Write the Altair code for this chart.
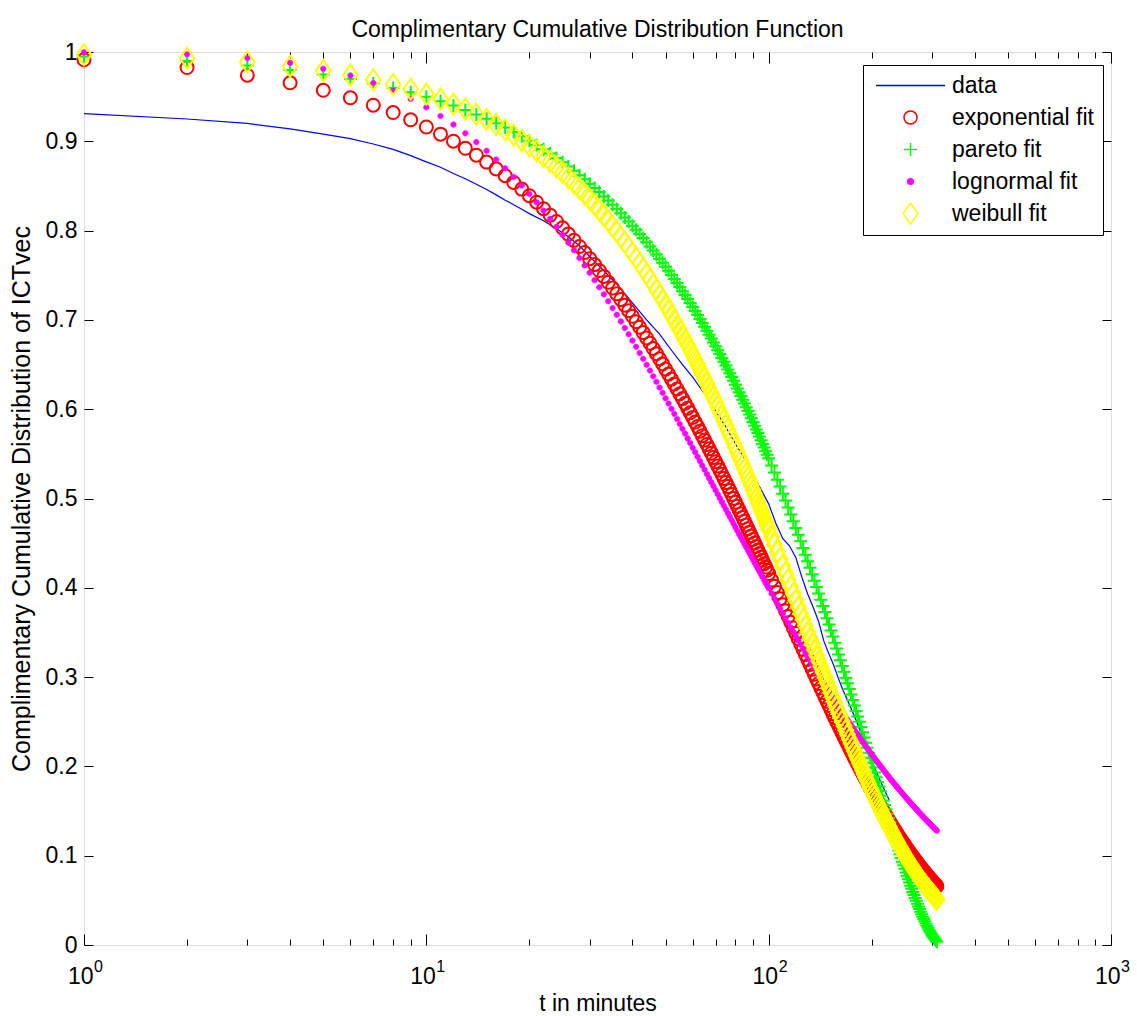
import altair as alt
import pandas as pd

FONT = "Liberation Sans"

# ---------------- data ----------------
t_fit = [1, 2, 3, 4, 5, 6, 7, 8, 9, 10, 11, 12, 13, 14, 15, 16, 17, 18, 19, 20,
         21, 22, 23, 24, 25, 26, 27, 28, 29, 30, 31, 32, 33, 34, 35, 36, 37, 38, 39, 40,
         41, 42, 43, 44, 45, 46, 47, 48, 49, 50, 51, 52, 53, 54, 55, 56, 57, 58, 59, 60,
         61, 62, 63, 64, 65, 66, 67, 68, 69, 70, 71, 72, 73, 74, 75, 76, 77, 78, 79, 80,
         81, 82, 83, 84, 85, 86, 87, 88, 89, 90, 91, 92, 93, 94, 95, 96, 97, 98, 99, 100,
         102, 104, 106, 108, 110, 112, 114, 116, 118, 120,
         122, 124, 126, 128, 130, 132, 134, 136, 138, 140,
         142, 144, 146, 148, 150, 152, 154, 156, 158, 160,
         162, 164, 166, 168, 170, 172, 174, 176, 178, 180,
         182, 184, 186, 188, 190, 192, 194, 196, 198, 200,
         202, 204, 206, 208, 210, 212, 214, 216, 218, 220,
         222, 224, 226, 228, 230, 232, 234, 236, 238, 240,
         242, 244, 246, 248, 250, 252, 254, 256, 258, 260,
         262, 264, 266, 268, 270, 272, 274, 276, 278, 280,
         282, 284, 286, 288, 290, 292, 294, 296, 298, 300,
         302, 304, 306, 308, 310]

exponential_fit = [
    0.9913, 0.9826, 0.9740, 0.9655, 0.9571, 0.9487, 0.9404, 0.9322, 0.9241, 0.9160,
    0.9080, 0.9001, 0.8922, 0.8844, 0.8767, 0.8691, 0.8615, 0.8539, 0.8465, 0.8391,
    0.8318, 0.8245, 0.8173, 0.8102, 0.8031, 0.7961, 0.7891, 0.7822, 0.7754, 0.7686,
    0.7619, 0.7553, 0.7487, 0.7421, 0.7357, 0.7292, 0.7229, 0.7165, 0.7103, 0.7041,
    0.6980, 0.6918, 0.6858, 0.6798, 0.6739, 0.6680, 0.6622, 0.6564, 0.6507, 0.6449,
    0.6393, 0.6337, 0.6282, 0.6227, 0.6173, 0.6119, 0.6066, 0.6012, 0.5960, 0.5908,
    0.5856, 0.5805, 0.5754, 0.5704, 0.5654, 0.5605, 0.5556, 0.5508, 0.5460, 0.5412,
    0.5365, 0.5318, 0.5272, 0.5225, 0.5179, 0.5134, 0.5089, 0.5045, 0.5001, 0.4957,
    0.4914, 0.4871, 0.4829, 0.4787, 0.4745, 0.4703, 0.4662, 0.4621, 0.4581, 0.4541,
    0.4501, 0.4462, 0.4423, 0.4384, 0.4346, 0.4308, 0.4270, 0.4233, 0.4196, 0.4159,
    0.4087, 0.4016, 0.3946, 0.3878, 0.3810, 0.3744, 0.3679, 0.3615, 0.3552, 0.3490,
    0.3430, 0.3370, 0.3311, 0.3254, 0.3197, 0.3142, 0.3087, 0.3033, 0.2980, 0.2929,
    0.2878, 0.2828, 0.2778, 0.2730, 0.2683, 0.2636, 0.2590, 0.2545, 0.2501, 0.2457,
    0.2415, 0.2373, 0.2331, 0.2291, 0.2251, 0.2212, 0.2173, 0.2136, 0.2098, 0.2062,
    0.2026, 0.1991, 0.1956, 0.1922, 0.1889, 0.1856, 0.1824, 0.1792, 0.1761, 0.1730,
    0.1700, 0.1670, 0.1641, 0.1613, 0.1585, 0.1557, 0.1530, 0.1504, 0.1477, 0.1452,
    0.1426, 0.1402, 0.1377, 0.1353, 0.1330, 0.1307, 0.1284, 0.1262, 0.1240, 0.1218,
    0.1197, 0.1176, 0.1156, 0.1136, 0.1116, 0.1096, 0.1077, 0.1059, 0.1040, 0.1022,
    0.1004, 0.0987, 0.0970, 0.0953, 0.0936, 0.0920, 0.0904, 0.0888, 0.0873, 0.0858,
    0.0843, 0.0828, 0.0814, 0.0800, 0.0786, 0.0772, 0.0758, 0.0745, 0.0732, 0.0720,
    0.0707, 0.0695, 0.0683, 0.0671, 0.0659]

pareto_fit = [
    0.9949, 0.9899, 0.9849, 0.9798, 0.9748, 0.9698, 0.9648, 0.9598, 0.9548, 0.9499,
    0.9449, 0.9400, 0.9350, 0.9301, 0.9252, 0.9203, 0.9154, 0.9105, 0.9056, 0.9007,
    0.8959, 0.8910, 0.8862, 0.8813, 0.8765, 0.8717, 0.8669, 0.8621, 0.8574, 0.8526,
    0.8478, 0.8431, 0.8383, 0.8336, 0.8289, 0.8242, 0.8195, 0.8148, 0.8101, 0.8055,
    0.8009, 0.7962, 0.7916, 0.7869, 0.7823, 0.7777, 0.7731, 0.7685, 0.7640, 0.7594,
    0.7549, 0.7503, 0.7458, 0.7413, 0.7368, 0.7322, 0.7278, 0.7233, 0.7189, 0.7144,
    0.7100, 0.7055, 0.7011, 0.6966, 0.6922, 0.6878, 0.6835, 0.6791, 0.6748, 0.6704,
    0.6661, 0.6617, 0.6574, 0.6531, 0.6488, 0.6445, 0.6403, 0.6360, 0.6318, 0.6275,
    0.6233, 0.6190, 0.6148, 0.6106, 0.6065, 0.6023, 0.5981, 0.5940, 0.5898, 0.5857,
    0.5815, 0.5774, 0.5733, 0.5693, 0.5652, 0.5611, 0.5571, 0.5530, 0.5490, 0.5450,
    0.5370, 0.5290, 0.5211, 0.5133, 0.5054, 0.4977, 0.4899, 0.4822, 0.4746, 0.4670,
    0.4595, 0.4520, 0.4445, 0.4371, 0.4298, 0.4225, 0.4152, 0.4080, 0.4008, 0.3937,
    0.3867, 0.3797, 0.3728, 0.3658, 0.3590, 0.3521, 0.3454, 0.3386, 0.3320, 0.3253,
    0.3188, 0.3123, 0.3059, 0.2994, 0.2931, 0.2867, 0.2805, 0.2743, 0.2682, 0.2620,
    0.2560, 0.2500, 0.2441, 0.2382, 0.2324, 0.2266, 0.2210, 0.2153, 0.2097, 0.2041,
    0.1987, 0.1932, 0.1879, 0.1826, 0.1774, 0.1721, 0.1670, 0.1619, 0.1569, 0.1519,
    0.1471, 0.1422, 0.1375, 0.1327, 0.1281, 0.1235, 0.1190, 0.1145, 0.1102, 0.1058,
    0.1016, 0.0974, 0.0933, 0.0892, 0.0853, 0.0813, 0.0775, 0.0737, 0.0700, 0.0664,
    0.0629, 0.0594, 0.0560, 0.0527, 0.0495, 0.0463, 0.0432, 0.0402, 0.0373, 0.0344,
    0.0317, 0.0290, 0.0265, 0.0240, 0.0216, 0.0193, 0.0172, 0.0151, 0.0131, 0.0112,
    0.0095, 0.0078, 0.0063, 0.0049, 0.0036]

lognormal_fit = [
    0.9996, 0.9974, 0.9934, 0.9878, 0.9812, 0.9736, 0.9653, 0.9566, 0.9474, 0.9380,
    0.9284, 0.9187, 0.9089, 0.8991, 0.8893, 0.8795, 0.8697, 0.8601, 0.8505, 0.8410,
    0.8317, 0.8224, 0.8132, 0.8042, 0.7953, 0.7865, 0.7779, 0.7693, 0.7609, 0.7527,
    0.7445, 0.7365, 0.7286, 0.7209, 0.7132, 0.7057, 0.6983, 0.6910, 0.6839, 0.6768,
    0.6699, 0.6630, 0.6564, 0.6497, 0.6433, 0.6368, 0.6306, 0.6243, 0.6183, 0.6122,
    0.6064, 0.6005, 0.5948, 0.5890, 0.5835, 0.5780, 0.5727, 0.5673, 0.5621, 0.5569,
    0.5519, 0.5468, 0.5419, 0.5370, 0.5322, 0.5274, 0.5228, 0.5182, 0.5137, 0.5092,
    0.5048, 0.5004, 0.4962, 0.4919, 0.4878, 0.4836, 0.4796, 0.4756, 0.4717, 0.4677,
    0.4639, 0.4601, 0.4563, 0.4527, 0.4490, 0.4454, 0.4419, 0.4384, 0.4349, 0.4315,
    0.4281, 0.4247, 0.4214, 0.4182, 0.4149, 0.4118, 0.4086, 0.4055, 0.4025, 0.3995,
    0.3936, 0.3877, 0.3820, 0.3765, 0.3711, 0.3658, 0.3606, 0.3555, 0.3506, 0.3458,
    0.3410, 0.3364, 0.3319, 0.3274, 0.3231, 0.3188, 0.3147, 0.3106, 0.3065, 0.3026,
    0.2988, 0.2950, 0.2914, 0.2877, 0.2842, 0.2807, 0.2773, 0.2739, 0.2706, 0.2673,
    0.2642, 0.2611, 0.2581, 0.2550, 0.2521, 0.2491, 0.2463, 0.2435, 0.2408, 0.2380,
    0.2354, 0.2328, 0.2303, 0.2277, 0.2253, 0.2228, 0.2204, 0.2180, 0.2157, 0.2134,
    0.2112, 0.2090, 0.2068, 0.2046, 0.2026, 0.2005, 0.1985, 0.1964, 0.1945, 0.1925,
    0.1906, 0.1886, 0.1868, 0.1849, 0.1832, 0.1814, 0.1797, 0.1779, 0.1762, 0.1745,
    0.1729, 0.1712, 0.1696, 0.1680, 0.1665, 0.1649, 0.1634, 0.1619, 0.1604, 0.1589,
    0.1575, 0.1561, 0.1547, 0.1533, 0.1519, 0.1505, 0.1492, 0.1479, 0.1466, 0.1453,
    0.1441, 0.1428, 0.1416, 0.1404, 0.1392, 0.1380, 0.1369, 0.1357, 0.1346, 0.1334,
    0.1323, 0.1312, 0.1302, 0.1291, 0.1280]

weibull_fit = [
    0.9970, 0.9930, 0.9887, 0.9841, 0.9792, 0.9742, 0.9690, 0.9637, 0.9584, 0.9529,
    0.9473, 0.9417, 0.9360, 0.9303, 0.9245, 0.9187, 0.9128, 0.9069, 0.9010, 0.8950,
    0.8891, 0.8831, 0.8771, 0.8711, 0.8651, 0.8591, 0.8530, 0.8470, 0.8410, 0.8350,
    0.8289, 0.8229, 0.8169, 0.8109, 0.8049, 0.7989, 0.7929, 0.7870, 0.7811, 0.7751,
    0.7692, 0.7633, 0.7575, 0.7516, 0.7458, 0.7399, 0.7341, 0.7283, 0.7226, 0.7168,
    0.7111, 0.7053, 0.6997, 0.6941, 0.6885, 0.6828, 0.6773, 0.6718, 0.6663, 0.6608,
    0.6554, 0.6499, 0.6445, 0.6391, 0.6338, 0.6284, 0.6231, 0.6178, 0.6126, 0.6074,
    0.6023, 0.5971, 0.5920, 0.5868, 0.5818, 0.5767, 0.5718, 0.5668, 0.5619, 0.5570,
    0.5521, 0.5473, 0.5424, 0.5377, 0.5329, 0.5282, 0.5235, 0.5189, 0.5142, 0.5096,
    0.5051, 0.5005, 0.4960, 0.4916, 0.4871, 0.4827, 0.4783, 0.4739, 0.4696, 0.4654,
    0.4569, 0.4485, 0.4403, 0.4322, 0.4242, 0.4163, 0.4086, 0.4009, 0.3934, 0.3860,
    0.3787, 0.3715, 0.3644, 0.3575, 0.3506, 0.3439, 0.3373, 0.3308, 0.3244, 0.3181,
    0.3120, 0.3058, 0.2999, 0.2939, 0.2882, 0.2824, 0.2769, 0.2713, 0.2660, 0.2606,
    0.2555, 0.2503, 0.2454, 0.2404, 0.2356, 0.2307, 0.2261, 0.2215, 0.2170, 0.2125,
    0.2082, 0.2039, 0.1998, 0.1956, 0.1916, 0.1876, 0.1838, 0.1799, 0.1762, 0.1725,
    0.1690, 0.1654, 0.1620, 0.1585, 0.1552, 0.1519, 0.1487, 0.1455, 0.1425, 0.1394,
    0.1365, 0.1335, 0.1307, 0.1279, 0.1252, 0.1225, 0.1199, 0.1172, 0.1147, 0.1122,
    0.1098, 0.1074, 0.1051, 0.1028, 0.1006, 0.0984, 0.0963, 0.0941, 0.0921, 0.0900,
    0.0881, 0.0861, 0.0842, 0.0823, 0.0805, 0.0787, 0.0770, 0.0753, 0.0737, 0.0720,
    0.0704, 0.0688, 0.0673, 0.0657, 0.0643, 0.0628, 0.0614, 0.0600, 0.0587, 0.0573,
    0.0561, 0.0548, 0.0536, 0.0523, 0.0511]

data_t = [1, 2, 3, 4, 5, 6, 7, 8, 9, 10, 11, 12, 13, 14, 15, 16, 17, 18, 19, 20,
          22, 24, 26, 28, 30, 33, 36, 40, 44, 48, 52, 56, 60, 65, 70, 75, 80, 85, 90, 95, 100,
          105, 110, 115, 120, 125, 130, 135, 140, 145, 150, 155, 160, 165, 170,
          180, 190, 200, 210, 225]
data_ccdf = [0.931, 0.925, 0.920, 0.914, 0.908, 0.903, 0.897, 0.891, 0.884, 0.877,
             0.871, 0.864, 0.858, 0.852, 0.846, 0.840, 0.834, 0.829, 0.824, 0.819,
             0.811, 0.802, 0.793, 0.783, 0.771, 0.755, 0.740, 0.719, 0.700, 0.684,
             0.666, 0.650, 0.636, 0.617, 0.598, 0.580, 0.561, 0.545, 0.527, 0.510, 0.494,
             0.472, 0.455, 0.447, 0.434, 0.412, 0.393, 0.378, 0.362, 0.340, 0.326,
             0.313, 0.298, 0.285, 0.274, 0.252, 0.228, 0.207, 0.187, 0.162]

series_names = ["data", "exponential fit", "pareto fit", "lognormal fit", "weibull fit"]
series_colors = ["#0000ff", "#ff0000", "#00ff00", "#ff00ff", "#ffff00"]
# marker outlines as symbol paths (unit = 5 px at symbol size 100)
series_shapes = [
    "M-6.9,0H6.9",
    "M1.3,0A1.3,1.3,0,1,1,-1.3,0A1.3,1.3,0,1,1,1.3,0Z",
    "M-1.3,0H1.3M0,-1.3V1.3",
    "M0.56,0A0.56,0.56,0,1,1,-0.56,0A0.56,0.56,0,1,1,0.56,0Z",
    "M0,-2.1L1.47,0L0,2.1L-1.47,0Z",
]
series_fills = ["transparent", "transparent", "transparent", "#ff00ff", "transparent"]

x_major = [1, 10, 100, 1000]
x_exponents = ["0", "1", "2", "3"]
x_minor = [2, 3, 4, 5, 6, 7, 8, 9, 20, 30, 40, 50, 60, 70, 80, 90,
           200, 300, 400, 500, 600, 700, 800, 900]
y_ticks = [0, 0.1, 0.2, 0.3, 0.4, 0.5, 0.6, 0.7, 0.8, 0.9, 1]

# ---------------- tables ----------------
fits = pd.DataFrame({
    "t": t_fit,
    "exponential fit": exponential_fit,
    "pareto fit": pareto_fit,
    "lognormal fit": lognormal_fit,
    "weibull fit": weibull_fit,
})
fit_long = fits.melt(id_vars="t", var_name="series", value_name="v")
data_df = pd.DataFrame({"t": data_t, "v": data_ccdf})
data_df["series"] = "data"
exp_df = pd.DataFrame({"t": x_major, "v": [0] * len(x_major), "e": x_exponents})
dummy_df = pd.DataFrame({"t": [1, 1000], "v": [0, 1]})

# ---------------- scales / axes ----------------
xscale = alt.Scale(type="log", domain=[1, 1000], nice=False)
yscale = alt.Scale(domain=[0, 1], nice=False, zero=False)

common_axis = dict(domain=False, grid=False, tickColor="black", tickWidth=1,
                   labelFont=FONT, labelColor="black", titleFont=FONT, titleColor="black")

x_axis_main = alt.Axis(orient="bottom", values=x_major, tickSize=11, offset=-11,
                       labelExpr="'10'", labelAlign="right", labelOffset=9,
                       labelBaseline="alphabetic", labelPadding=38, labelFontSize=23,
                       labelFlush=False, labelOverlap=False,
                       title="t in minutes", titleFontSize=23, titleFontWeight="normal",
                       titleBaseline="alphabetic", titleAlign="center", titleX=513.5, titleY=76,
                       **common_axis)
y_axis_main = alt.Axis(orient="left", values=y_ticks, format="~g", tickSize=9, offset=-9,
                       labelPadding=7, labelFontSize=23, labelBaseline="middle",
                       labelFlush=False, labelOverlap=False,
                       title="Complimentary Cumulative Distribution of ICTvec",
                       titleFontSize=25, titleFontWeight="normal", titleAngle=270,
                       titleBaseline="alphabetic", titleAlign="center", titleX=-64, titleY=446.5,
                       **common_axis)
x_axis_minor_bottom = alt.Axis(orient="bottom", values=x_minor, tickSize=6, offset=-6,
                               labels=False, title=None, **common_axis)
y_axis_right = alt.Axis(orient="right", values=y_ticks, tickSize=9, offset=-9,
                        labels=False, title=None, **common_axis)
x_axis_major_top = alt.Axis(orient="top", values=x_major, tickSize=11, offset=-11,
                            labels=False, title=None, **common_axis)
x_axis_minor_top = alt.Axis(orient="top", values=x_minor, tickSize=6, offset=-6,
                            labels=False, title=None, **common_axis)

X = alt.X("t:Q", scale=xscale, axis=x_axis_main)
Y = alt.Y("v:Q", scale=yscale, axis=y_axis_main)

legend = alt.Legend(title=None, orient="none", legendX=779, legendY=13, padding=9,
                    strokeColor="black", fillColor="white", cornerRadius=0,
                    labelFont=FONT, labelFontSize=23, labelColor="black", labelOffset=30,
                    symbolOffset=27, symbolSize=100, symbolStrokeWidth=1.5,
                    clipHeight=23, rowPadding=8)

stroke_enc = alt.Stroke("series:N", scale=alt.Scale(domain=series_names, range=series_colors), legend=legend)
shape_enc = alt.Shape("series:N", scale=alt.Scale(domain=series_names, range=series_shapes), legend=legend)
fill_enc = alt.Fill("series:N", scale=alt.Scale(domain=series_names, range=series_fills), legend=legend)

line = alt.Chart(data_df).mark_line(strokeWidth=1.2).encode(x=X, y=Y, stroke=stroke_enc)


def fit_layer(name, sw):
    return (alt.Chart(fit_long)
            .transform_filter(alt.datum.series == name)
            .mark_point(filled=False, opacity=1, strokeWidth=sw, size=100)
            .encode(x=X, y=Y, stroke=stroke_enc, shape=shape_enc, fill=fill_enc))


exps = alt.Chart(exp_df).mark_text(align="left", baseline="alphabetic", dx=10, dy=27,
                                   fontSize=16, font=FONT, color="black").encode(
    x=X, y=Y, text="e:N")

main = alt.layer(
    line,
    fit_layer("exponential fit", 2),
    fit_layer("pareto fit", 2),
    fit_layer("lognormal fit", 0.5),
    fit_layer("weibull fit", 2),
    exps,
)

mirror1 = alt.Chart(dummy_df).mark_point(opacity=0).encode(
    x=alt.X("t:Q", scale=xscale, axis=x_axis_minor_bottom),
    y=alt.Y("v:Q", scale=yscale, axis=y_axis_right))
mirror2 = alt.Chart(dummy_df).mark_point(opacity=0).encode(
    x=alt.X("t:Q", scale=xscale, axis=x_axis_major_top),
    y=alt.Y("v:Q", scale=yscale, axis=None))
mirror3 = alt.Chart(dummy_df).mark_point(opacity=0).encode(
    x=alt.X("t:Q", scale=xscale, axis=x_axis_minor_top),
    y=alt.Y("v:Q", scale=yscale, axis=None))

chart = (alt.layer(main, mirror1, mirror2, mirror3)
         .resolve_scale(x="independent", y="independent")
         .properties(width=1027, height=893,
                     title=alt.TitleParams("Complimentary Cumulative Distribution Function",
                                           font=FONT, fontSize=23, fontWeight="normal",
                                           color="black", anchor="middle", frame="group",
                                           baseline="alphabetic", offset=8, dy=28),
                     padding={"left": 84, "top": 52, "right": 26, "bottom": 71},
                     autosize=alt.AutoSizeParams(type="none"),
                     background="white")
         .configure_view(stroke="black", strokeWidth=1)
         .configure(font=FONT))

chart.save("out.html", embed_options={"renderer": "svg", "actions": False})
